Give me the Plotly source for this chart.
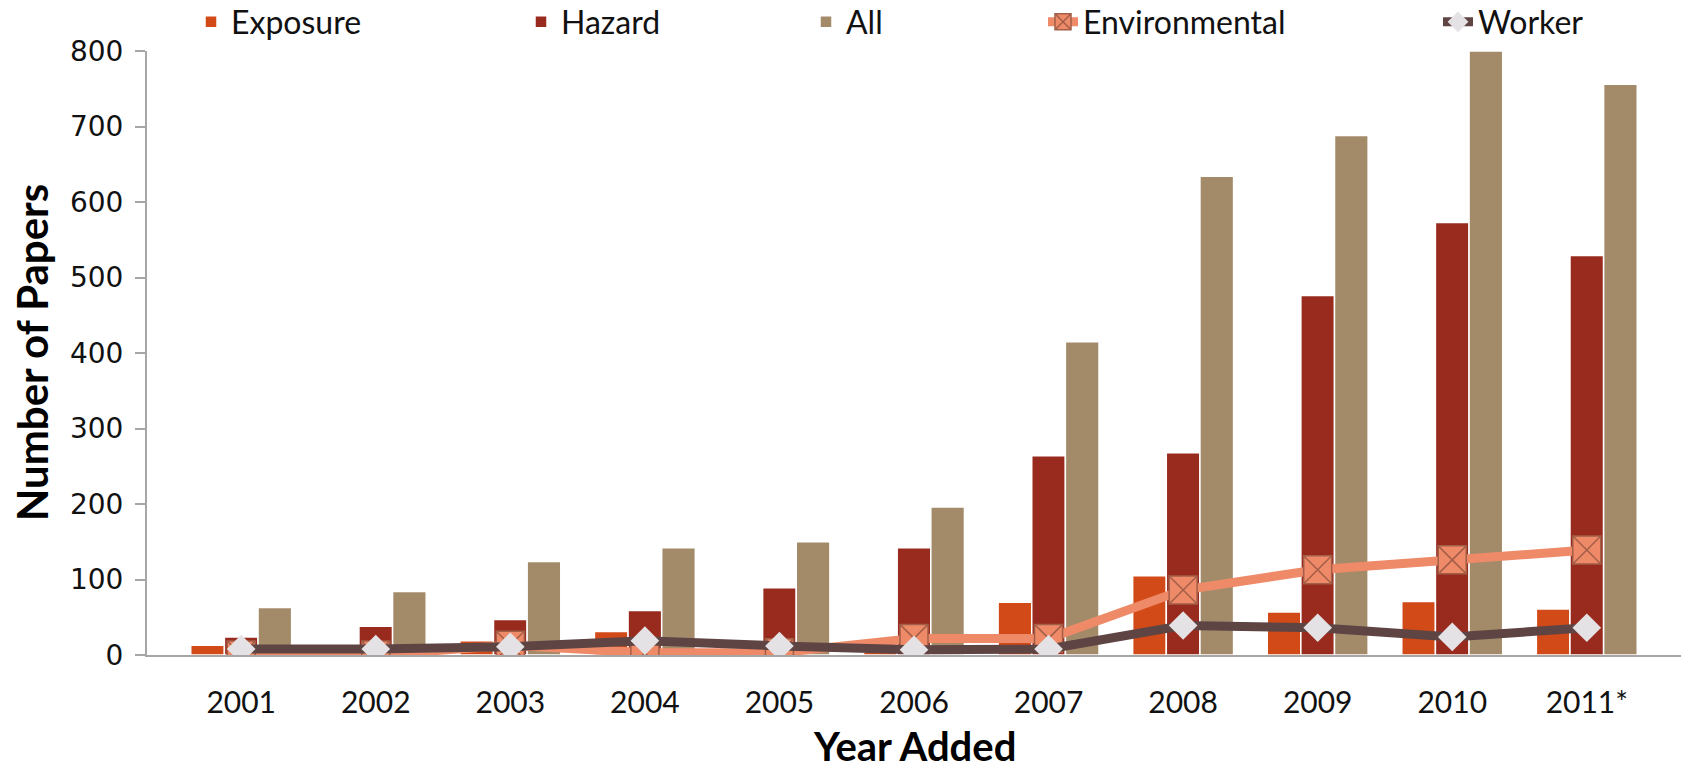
import plotly.graph_objects as go

# Papers added per year, by category
years = ["2001", "2002", "2003", "2004", "2005", "2006", "2007", "2008", "2009", "2010", "2011*"]
exposure = [13, 3, 19, 31, 4, 4, 70, 105, 57, 71, 61]
hazard = [24, 38, 47, 59, 89, 142, 264, 268, 476, 573, 529]
all_papers = [63, 84, 124, 142, 150, 196, 415, 634, 688, 800, 756]
environmental = [0, 0, 13, 3, 3, 22, 22, 86, 113, 126, 139]
worker = [8, 8, 11, 19, 12, 7, 8, 39, 36, 24, 36]

y_ticks = [0, 100, 200, 300, 400, 500, 600, 700, 800]

W, H = 1686, 774
PLOT_L, PLOT_R, PLOT_T, PLOT_B = 147, 1681, 51, 655
TEXT_FONT = "Lato, 'Open Sans', sans-serif"
AXIS_GREY = "#A6A6A6"

fig = go.Figure()

bar_specs = [
    ("Exposure", exposure, "#D24A17", "legend"),
    ("Hazard", hazard, "#992B1E", "legend2"),
    ("All", all_papers, "#A38B6A", "legend3"),
]
for name, vals, color, lg in bar_specs:
    fig.add_trace(go.Bar(
        x=years, y=vals, name=name, legend=lg,
        marker=dict(color=color, line=dict(color="white", width=1.5)),
    ))

fig.add_trace(go.Scatter(
    x=years, y=environmental, name="Environmental", legend="legend4",
    mode="lines+markers",
    line=dict(color="#EF8A69", width=9),
    marker=dict(symbol="square-x", size=28, color="#EF8A69",
                line=dict(color="#A35E48", width=1.5)),
))
fig.add_trace(go.Scatter(
    x=years, y=worker, name="Worker", legend="legend5",
    mode="lines+markers",
    line=dict(color="#5F4444", width=9),
    marker=dict(symbol="diamond", size=22, color="#E4E2E4",
                line=dict(color="#E4E2E4", width=0)),
))

# one legend per entry so each sits where it belongs along the top row
legend_font = dict(family=TEXT_FONT, size=32, color="#111111")
legend_left = {"legend": 191, "legend2": 521, "legend3": 806, "legend4": 1043, "legend5": 1438}
legend_layouts = {}
for key, px in legend_left.items():
    legend_layouts[key] = dict(
        xref="container", yref="container",
        x=px / W, y=1 - 22 / H, xanchor="left", yanchor="middle",
        orientation="h", font=legend_font, bgcolor="rgba(0,0,0,0)",
        borderwidth=0, itemclick=False,
    )

plot_w = PLOT_R - PLOT_L
plot_h = PLOT_B - PLOT_T

fig.update_layout(
    width=W, height=H, autosize=False,
    margin=dict(l=PLOT_L, r=W - PLOT_R, t=PLOT_T, b=H - PLOT_B),
    paper_bgcolor="white", plot_bgcolor="white",
    barmode="group", bargap=0.25, bargroupgap=0.0,
    showlegend=True,
    **legend_layouts,
    xaxis=dict(
        type="category", showline=True, linecolor=AXIS_GREY, linewidth=2,
        ticks="", showgrid=False, zeroline=False,
        tickfont=dict(family=TEXT_FONT, size=30, color="#111111"),
        ticklabelstandoff=20, automargin=False,
    ),
    yaxis=dict(
        range=[0, 800], tickvals=y_ticks, showgrid=False, zeroline=False,
        showline=True, linecolor=AXIS_GREY, linewidth=2,
        ticks="outside", ticklen=10, tickwidth=2, tickcolor=AXIS_GREY,
        tickfont=dict(family="'DejaVu Sans', Verdana, sans-serif", size=28, color="#111111"),
        ticklabelstandoff=6, automargin=False,
    ),
    annotations=[
        dict(text="<b>Year Added</b>", xref="paper", yref="paper",
             x=0.5, y=-(746 - PLOT_B) / plot_h, xanchor="center", yanchor="middle",
             showarrow=False, font=dict(family=TEXT_FONT, size=40, color="black")),
        dict(text="<b>Number of Papers</b>", xref="paper", yref="paper",
             x=-(PLOT_L - 32) / plot_w, y=0.5, xanchor="center", yanchor="middle",
             textangle=-90, showarrow=False,
             font=dict(family=TEXT_FONT, size=42, color="black")),
    ],
)

fig.write_html("out.html")
